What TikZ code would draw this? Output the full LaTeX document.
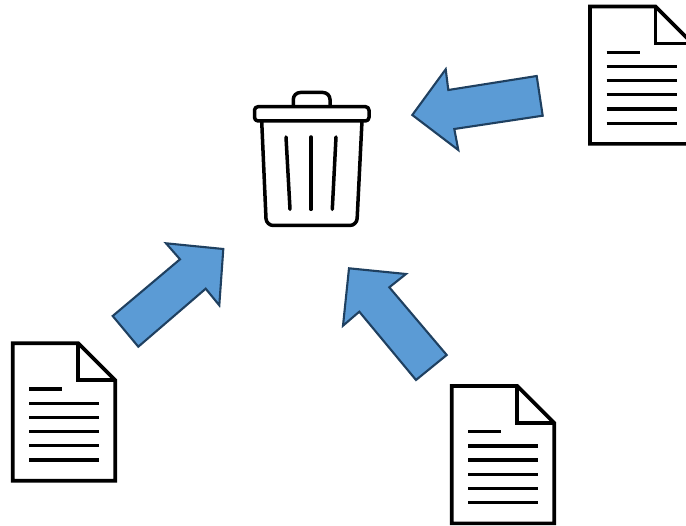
\documentclass[tikz,border=0pt]{standalone}
\definecolor{arrowfill}{HTML}{5B9BD5}
\definecolor{arrowline}{HTML}{1F4060}
\tikzset{
  blockarrow/.style={fill=arrowfill,draw=arrowline,line width=2.1pt,line join=miter,miter limit=6},
  iconline/.style={draw=black,line width=3.7pt,line join=miter},
  textline/.style={draw=black,line width=3.3pt},
  binline/.style={draw=black,line width=3.5pt,line cap=round,line join=round},
  docicon/.pic={
    \draw[iconline,fill=white] (0,0) -- (65.6,0) -- (102.5,37) -- (102.5,137.4) -- (0,137.4) -- cycle;
    \draw[iconline] (65.6,0) -- (65.6,37) -- (102.5,37);
    \draw[textline] (16.6,45.7) -- (49.6,45.7);
    \foreach \yy in {60,74.1,88.3,102.4,116.7}
      \draw[textline] (16.6,\yy) -- (86.6,\yy);
  }
}
\begin{document}
\begin{tikzpicture}[x=1pt,y=-1pt]
\useasboundingbox (0,0) rectangle (686,526);
% documents
\pic at (12.7,343.3) {docicon};
\pic at (451.7,386) {docicon};
\pic at (590,6.5) {docicon};
% arrows
\draw[blockarrow] (412.3,115) -- (445.7,69.3) -- (448.3,90) -- (536.7,76) -- (542.7,115.7) -- (454.3,129) -- (458.3,150) -- cycle;
\draw[blockarrow] (223.3,249) -- (166,243.3) -- (180,259.3) -- (112.7,316) -- (138.3,346.7) -- (205.7,288.7) -- (219.3,305.3) -- cycle;
\draw[blockarrow] (349,268.3) -- (406,274) -- (389.3,287.3) -- (446.7,355) -- (416,380) -- (359.3,311.7) -- (343,325.7) -- cycle;
% bin
\draw[binline,rounded corners=7pt] (293.3,105.7) -- (293.3,92.5) -- (330,92.5) -- (330,105.7);
\draw[binline,rounded corners=3.5pt] (254.5,121) -- (254.5,106.7) -- (369,106.7) -- (369,121) -- cycle;
\draw[binline,rounded corners=7pt] (261.7,121) -- (266.3,225.5) -- (356.8,225.5) -- (362,121);
\draw[binline] (286,137) -- (290,209.3);
\draw[binline] (311,137) -- (311,209.3);
\draw[binline] (336,137) -- (332.3,209.3);
\end{tikzpicture}
\end{document}
